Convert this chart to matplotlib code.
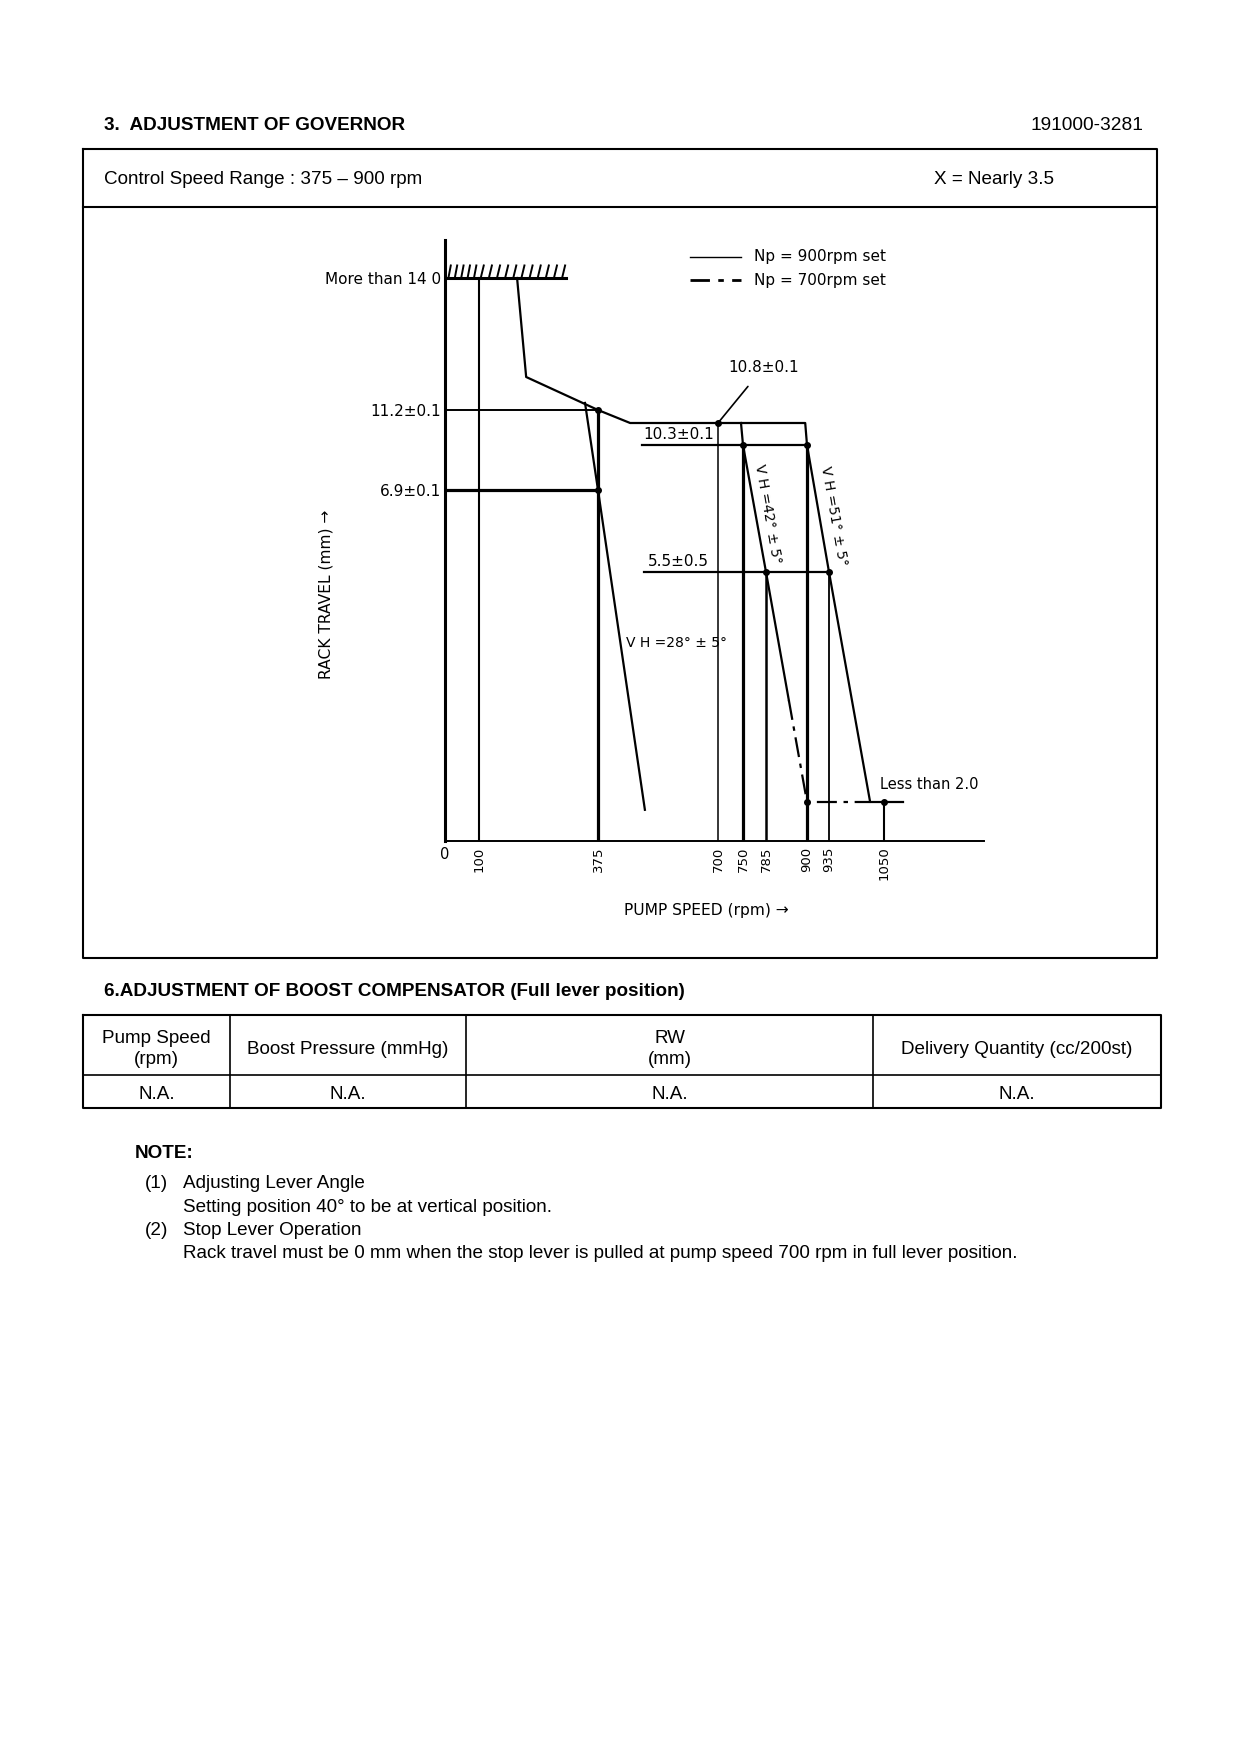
import numpy as np
import matplotlib
matplotlib.use('Agg')
from matplotlib import pyplot as plt

plt.rcParams['font.family'] = ['Liberation Sans', 'DejaVu Sans']
CHART_FONT = ['DejaVu Sans']

# ---- governor chart values (rpm / mm) ----
speed_ticks = [0, 100, 375, 700, 750, 785, 900, 935, 1050]
speed_labels = ['0', '100', '375', '700', '750', '785', '900', '935', '1050']
rack_ticks = [14.0, 11.2, 6.9]
rack_labels = ['More than 14 0', '11.2\u00b10.1', '6.9\u00b10.1']

# stop line at the top of the rack
stop_rpm = [0, 300]
stop_mm = [14.0, 14.0]

# full load curve, Np = 900rpm set
full_rpm = [188, 209, 375, 462, 895, 900, 935, 1021, 1088]
full_mm = [14.0, 11.9, 11.2, 10.8, 10.8, 10.3, 5.5, 2.0, 2.0]

# Np = 700rpm set branch
np700_rpm = [746, 750, 785, 849]
np700_mm = [10.8, 10.3, 5.5, 3.55]
np700_tail_rpm = [849, 900, 1021]
np700_tail_mm = [3.55, 2.0, 2.0]

# VH = 28 deg line
vh28_rpm = [345, 375, 502]
vh28_mm = [11.35, 6.9, 1.6]

# vertical guide lines: speed, height reached
guide_rpm = [100, 375, 700, 750, 785, 900, 935, 1050]
guide_top = [14.0, 11.2, 10.8, 10.3, 5.5, 10.3, 5.5, 2.0]

# horizontal guide lines: level, from, to
hguide_mm = [11.2, 6.9, 10.3, 5.5]
hguide_from = [0, 0, 494, 500]
hguide_to = [375, 375, 900, 935]

# measured points
pts_rpm = [375, 375, 700, 750, 900, 785, 935, 900, 1050]
pts_mm = [11.2, 6.9, 10.8, 10.3, 10.3, 5.5, 5.5, 2.0, 2.0]

# the drawing is not to scale: where each value sits along the axis (px from origin)
speed_knots = [0, 100, 375, 700, 750, 785, 900, 935, 1050, 1250]
speed_pos = [0, 34, 153, 273, 298, 321, 362, 384, 439, 539]
rack_knots = [0, 2.0, 5.5, 6.9, 10.3, 10.8, 11.2, 14.0, 15.0]
rack_pos = [0, 39, 269, 351, 396, 418, 431, 563, 601]

# ---- boost compensator table ----
table_headers = ['Pump Speed\n(rpm)', 'Boost Pressure (mmHg)', 'RW\n(mm)',
                 'Delivery Quantity (cc/200st)']
table_row = ['N.A.', 'N.A.', 'N.A.', 'N.A.']

notes = [('(1)', 'Adjusting Lever Angle'),
         ('', 'Setting position 40\u00b0 to be at vertical position.'),
         ('(2)', 'Stop Lever Operation'),
         ('', 'Rack travel must be 0 mm when the stop lever is pulled at pump '
              'speed 700 rpm in full lever position.')]


def make_scale(knots, pos):
    k = np.asarray(knots, float)
    p = np.asarray(pos, float)

    def fwd(v):
        return np.interp(v, k, p)

    def inv(v):
        return np.interp(v, p, k)
    return fwd, inv


W, H = 1240, 1754
fig = plt.figure(figsize=(W / 100, H / 100), dpi=100)
fig.patch.set_facecolor('white')

# page layer in pixel coordinates
pg = fig.add_axes([0, 0, 1, 1])
pg.set_xlim(0, W)
pg.set_ylim(H, 0)
pg.axis('off')

FS = 13.6
pg.text(104, 125, '3.  ADJUSTMENT OF GOVERNOR', fontsize=FS, fontweight='bold', va='center')
pg.text(1143, 125, '191000-3281', fontsize=13.8, va='center', ha='right')
pg.text(104, 179, 'Control Speed Range : 375 \u2013 900 rpm', fontsize=FS, va='center')
pg.text(934, 179, 'X = Nearly 3.5', fontsize=FS, va='center')

box_lw = 1.5
pg.plot([83, 1157, 1157, 83, 83], [149, 149, 958, 958, 149], color='black', lw=box_lw)
pg.plot([83, 1157], [207, 207], color='black', lw=box_lw)

# legend
pg.plot([690, 741], [257, 257], color='black', lw=1.0)
pg.plot([690, 741], [280, 280], color='black', lw=2.0, linestyle=(0, (7, 3, 2, 3)))
pg.text(754, 257, 'Np = 900rpm set', fontsize=11, va='center', family=CHART_FONT)
pg.text(754, 280, 'Np = 700rpm set', fontsize=11, va='center', family=CHART_FONT)

pg.text(326, 594, 'RACK TRAVEL (mm) \u2192', fontsize=11.2, rotation=90,
        ha='center', va='center', family=CHART_FONT)
pg.text(706, 910, 'PUMP SPEED (rpm) \u2192', fontsize=11.2, ha='center', va='center',
        family=CHART_FONT)

# boost compensator table
pg.text(104, 992, '6.ADJUSTMENT OF BOOST COMPENSATOR (Full lever position)',
        fontsize=FS, fontweight='bold', va='center')
col_x = [83, 230, 466, 873, 1161]
t_top, t_mid, t_bot = 1015, 1075, 1108
pg.plot([col_x[0], col_x[-1], col_x[-1], col_x[0], col_x[0]],
        [t_top, t_top, t_bot, t_bot, t_top], color='black', lw=box_lw)
pg.plot([col_x[0], col_x[-1]], [t_mid, t_mid], color='black', lw=1.2)
for cx in col_x[1:-1]:
    pg.plot([cx, cx], [t_top, t_bot], color='black', lw=1.2)
for i, (hd, rv) in enumerate(zip(table_headers, table_row)):
    xc = (col_x[i] + col_x[i + 1]) / 2
    pg.text(xc, (t_top + t_mid) / 2 + 4, hd, fontsize=FS, ha='center', va='center',
            multialignment='center', linespacing=1.32)
    pg.text(xc, (t_mid + t_bot) / 2 + 3, rv, fontsize=FS, ha='center', va='center')

pg.text(135, 1153, 'NOTE:', fontsize=FS, fontweight='bold', va='center')
for i, (num, txt) in enumerate(notes):
    y = 1184 + i * 23.3
    if num:
        pg.text(145, y, num, fontsize=FS, va='center')
    pg.text(183, y, txt, fontsize=FS, va='center')

# ---- governor chart ----
ax = fig.add_axes([445 / W, 1 - 841 / H, 539 / W, 601 / H])
ax.patch.set_alpha(0)
ax.set_xscale('function', functions=make_scale(speed_knots, speed_pos))
ax.set_yscale('function', functions=make_scale(rack_knots, rack_pos))
ax.set_xlim(0, 1250)
ax.set_ylim(0, 15)
for s in ['top', 'right']:
    ax.spines[s].set_visible(False)
ax.spines['left'].set_linewidth(2.2)
ax.spines['bottom'].set_linewidth(1.4)

ax.set_xticks(speed_ticks, speed_labels, fontsize=9.5, family=CHART_FONT)
for lab in ax.get_xticklabels():
    if lab.get_text() != '0':
        lab.set_rotation(90)
    else:
        lab.set_fontsize(10.5)
ax.set_yticks(rack_ticks, rack_labels, fontsize=11, family=CHART_FONT)
ax.tick_params(axis='x', length=0, pad=4)
ax.tick_params(axis='y', length=0, pad=3)
ax.minorticks_off()

guide_lw = [1.5, 2.3, 1.1, 2.3, 1.8, 2.3, 1.3, 1.5]
for xv, top, lw in zip(guide_rpm, guide_top, guide_lw):
    ax.plot([xv, xv], [0, top], color='black', lw=lw)
hguide_lw = [1.4, 2.3, 1.6, 1.6]
for yv, x0, x1, lw in zip(hguide_mm, hguide_from, hguide_to, hguide_lw):
    ax.plot([x0, x1], [yv, yv], color='black', lw=lw)

ax.plot(stop_rpm, stop_mm, color='black', lw=2.2)
for xh in np.linspace(10, 292, 16):
    ax.plot([xh, xh + 7], [14.0, 14.33], color='black', lw=1.4)

ax.plot(full_rpm, full_mm, color='black', lw=1.6)
ax.plot(np700_rpm, np700_mm, color='black', lw=1.6)
ax.plot(np700_tail_rpm, np700_tail_mm, color='black', lw=1.6, linestyle=(0, (9, 3, 2, 3)))
ax.plot(vh28_rpm, vh28_mm, color='black', lw=1.6)
ax.plot(pts_rpm, pts_mm, 'o', color='black', markersize=4)

ax.annotate('10.8\u00b10.1', xy=(700, 10.8), xytext=(781, 12.1), fontsize=11,
            family=CHART_FONT, ha='center', va='center',
            arrowprops=dict(arrowstyle='-', color='black', lw=1.2, shrinkA=8, shrinkB=0))
ax.annotate('10.3\u00b10.1', xy=(494, 10.3), xytext=(1, 2), textcoords='offset points',
            fontsize=11, family=CHART_FONT, ha='left', va='bottom')
ax.annotate('5.5\u00b10.5', xy=(500, 5.5), xytext=(3, 2), textcoords='offset points',
            fontsize=11, family=CHART_FONT, ha='left', va='bottom')
ax.text(451, 4.42, 'V H =28\u00b0 \u00b1 5\u00b0', fontsize=10, family=CHART_FONT,
        ha='left', va='center')
ax.text(791, 6.49, 'V H =42\u00b0 \u00b1 5\u00b0', fontsize=10, family=CHART_FONT,
        ha='center', va='center', rotation=-80)
ax.text(945, 6.46, 'V H =51\u00b0 \u00b1 5\u00b0', fontsize=10, family=CHART_FONT,
        ha='center', va='center', rotation=-80)
ax.text(1042, 2.26, 'Less than 2.0', fontsize=10.5, family=CHART_FONT,
        ha='left', va='center')

fig.savefig('out.png', dpi=100, facecolor='white')
